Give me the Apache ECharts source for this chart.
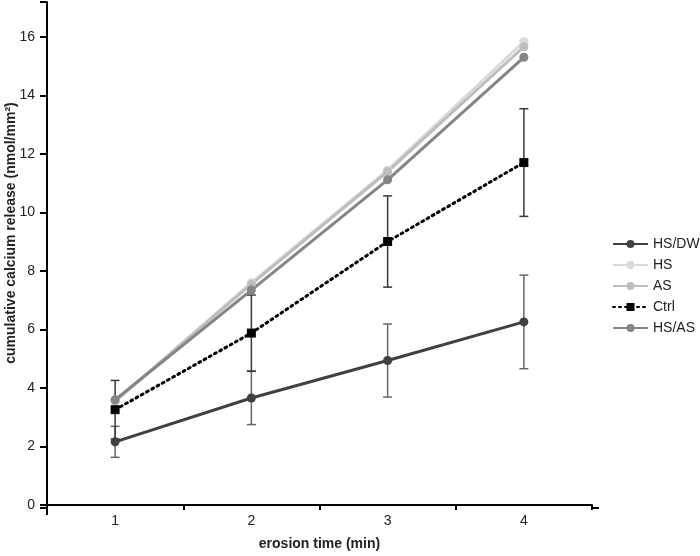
<!DOCTYPE html>
<html>
<head>
<meta charset="utf-8">
<script src="https://cdn.jsdelivr.net/npm/echarts@6/dist/echarts.min.js"></script>
<style>html,body{margin:0;padding:0;background:#fff}#c{width:700px;height:556px}</style>
</head>
<body>
<div id="c"></div>
<script>
var categories = ['1', '2', '3', '4'];
var yTicks = [0, 2, 4, 6, 8, 10, 12, 14, 16];
var hsdw = [2.16, 3.66, 4.94, 6.26];
var hsdwErr = [0.53, 0.91, 1.25, 1.6];
var hs = [3.55, 7.6, 11.45, 15.85];
var as = [3.55, 7.55, 11.4, 15.67];
var ctrl = [3.26, 5.88, 9.01, 11.71];
var ctrlErr = [1.0, 1.3, 1.56, 1.84];
var hsas = [3.6, 7.35, 11.12, 15.31];

function errData(vals, errs) {
  return vals.map(function (v, i) { return [i, v - errs[i], v + errs[i]]; });
}
function errSeries(vals, errs, color) {
  return {
    type: 'custom',
    silent: true,
    z: 1,
    data: errData(vals, errs),
    renderItem: function (params, api) {
      var lo = api.coord([api.value(0), api.value(1)]);
      var hi = api.coord([api.value(0), api.value(2)]);
      var w = 4.5;
      var st = { stroke: color, lineWidth: 1.5 };
      return {
        type: 'group',
        children: [
          { type: 'line', shape: { x1: lo[0], y1: lo[1], x2: hi[0], y2: hi[1] }, style: st },
          { type: 'line', shape: { x1: lo[0] - w, y1: lo[1], x2: lo[0] + w, y2: lo[1] }, style: st },
          { type: 'line', shape: { x1: hi[0] - w, y1: hi[1], x2: hi[0] + w, y2: hi[1] }, style: st }
        ]
      };
    }
  };
}
function lineSeries(name, data, color, symbol, dashed) {
  return {
    name: name, type: 'line', data: data,
    symbol: symbol, symbolSize: 9,
    z: 3,
    lineStyle: { color: color, width: 3, type: dashed ? [2, 4] : 'solid', cap: dashed ? 'round' : 'butt' },
    itemStyle: { color: color },
    emphasis: { disabled: true }
  };
}

var chart = echarts.init(document.getElementById('c'), null, { renderer: 'canvas' });
var font = 'Liberation Sans, Arial, sans-serif';
chart.setOption({
  animation: false,
  grid: { left: 47, right: 108, top: 2, bottom: 48, containLabel: false },
  legend: {
    orient: 'vertical', left: 607, top: 232,
    itemWidth: 35, itemHeight: 10, itemGap: 7,
    textStyle: { fontFamily: font, fontSize: 14, color: '#222' },
    data: ['HS/DW', 'HS', 'AS', 'Ctrl', 'HS/AS']
  },
  xAxis: {
    type: 'category', data: categories, boundaryGap: true,
    name: 'erosion time (min)', nameLocation: 'middle', nameGap: 32,
    nameTextStyle: { fontFamily: font, fontSize: 14, fontWeight: 'bold', color: '#222' },
    axisLine: { lineStyle: { color: '#000', width: 2 } },
    axisTick: { show: true, length: 5, lineStyle: { color: '#000', width: 2 } },
    axisLabel: { fontFamily: font, fontSize: 14, color: '#222', margin: 9 },
    splitLine: { show: false }
  },
  yAxis: {
    type: 'value', min: 0, max: 17.2, interval: 2,
    axisLine: { show: true, lineStyle: { color: '#000', width: 2 } },
    axisTick: { show: true, length: 7, lineStyle: { color: '#000', width: 2 } },
    axisLabel: {
      fontFamily: font, fontSize: 14, color: '#222', margin: 12,
      formatter: function (v) { return yTicks.indexOf(v) >= 0 ? String(v) : ''; }
    },
    splitLine: { show: false }
  },
  graphic: [
    {
      type: 'text', rotation: Math.PI / 2, x: 11, y: 233,
      style: {
        text: 'cumulative calcium release (nmol/mm²)',
        font: 'bold 14px ' + font, fill: '#222',
        align: 'center', verticalAlign: 'middle'
      }
    },
    { type: 'line', shape: { x1: 40, y1: 508, x2: 47, y2: 508 }, style: { stroke: '#000', lineWidth: 2 } },
    { type: 'line', shape: { x1: 592, y1: 508, x2: 599, y2: 508 }, style: { stroke: '#000', lineWidth: 2 } },
    { type: 'line', shape: { x1: 47, y1: 508, x2: 47, y2: 515 }, style: { stroke: '#000', lineWidth: 2 } }
  ],
  series: [
    errSeries(hsdw, hsdwErr, '#666'),
    errSeries(ctrl, ctrlErr, '#3a3a3a'),
    lineSeries('HS/DW', hsdw, '#404040', 'circle', false),
    lineSeries('HS', hs, '#d9d9d9', 'circle', false),
    lineSeries('AS', as, '#bdbdbd', 'circle', false),
    lineSeries('Ctrl', ctrl, '#000', 'rect', true),
    lineSeries('HS/AS', hsas, '#858585', 'circle', false)
  ]
});
</script>
</body>
</html>
